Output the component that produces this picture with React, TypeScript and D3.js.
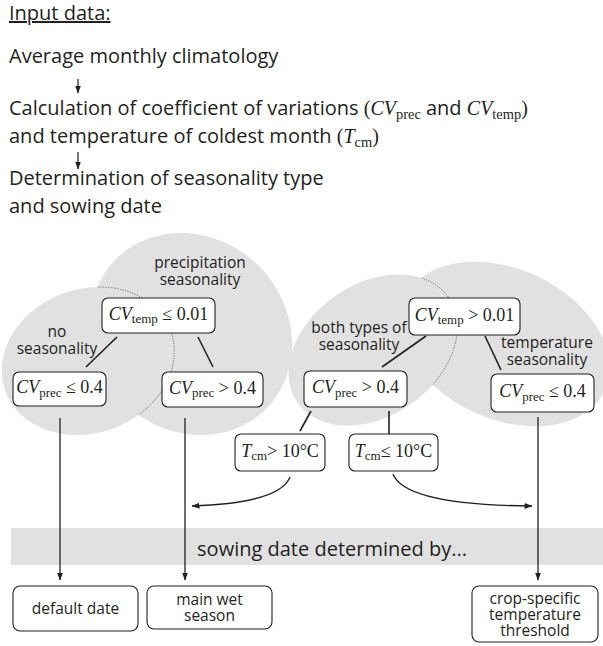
import * as d3 from "d3"

type Part = { t: string; italic?: boolean; sub?: boolean; sans?: boolean }

const FONT_SANS = "'Open Sans', 'Noto Sans', sans-serif"
const FONT_SERIF = "'Liberation Serif', 'DejaVu Serif', serif"
const INK = "#231f20"
const GRAY = "#e1e1e1"

// text of the intro steps
const INTRO_TITLE = "Input data:"
const INTRO_LINES: Part[][] = [
  [{ t: "Average monthly climatology", sans: true }],
  [
    { t: "Calculation of coefficient of variations ", sans: true },
    { t: "(" },
    { t: "CV", italic: true },
    { t: "prec", sub: true },
    { t: " and ", sans: true },
    { t: "CV", italic: true },
    { t: "temp", sub: true },
    { t: ")" },
  ],
  [
    { t: "and temperature of coldest month ", sans: true },
    { t: "(" },
    { t: "T", italic: true },
    { t: "cm", sub: true },
    { t: ")" },
  ],
  [{ t: "Determination of seasonality type", sans: true }],
  [{ t: "and sowing date", sans: true }],
]

// seasonality regions
const REGION_NAMES = ["precipitation", "none", "temperature", "both"]
const REGION_LABELS = [
  ["precipitation", "seasonality"],
  ["no", "seasonality"],
  ["temperature", "seasonality"],
  ["both types of", "seasonality"],
]

// decision boxes
const BOX_IDS = ["tempLow", "precLowA", "precHighA", "tempHigh", "precHighB", "precLowB", "tcmHigh", "tcmLow"]
const BOX_TEXT: Part[][] = [
  [{ t: "CV", italic: true }, { t: "temp", sub: true }, { t: " ≤ 0.01" }],
  [{ t: "CV", italic: true }, { t: "prec", sub: true }, { t: " ≤ 0.4" }],
  [{ t: "CV", italic: true }, { t: "prec", sub: true }, { t: " > 0.4" }],
  [{ t: "CV", italic: true }, { t: "temp", sub: true }, { t: " > 0.01" }],
  [{ t: "CV", italic: true }, { t: "prec", sub: true }, { t: " > 0.4" }],
  [{ t: "CV", italic: true }, { t: "prec", sub: true }, { t: " ≤ 0.4" }],
  [{ t: "T", italic: true }, { t: "cm", sub: true }, { t: "> 10°C" }],
  [{ t: "T", italic: true }, { t: "cm", sub: true }, { t: "≤ 10°C" }],
]

const BAND_TEXT = "sowing date determined by..."
const OUTCOME_TEXT = [["default date"], ["main wet", "season"], ["crop-specific", "temperature", "threshold"]]

// ---- layout (pixels) ----
const REGION_SHAPES: Record<string, { cx: number; cy: number; rx: number; ry: number; rot: number }> = {
  precipitation: { cx: 191, cy: 334, rx: 106, ry: 96, rot: 45 },
  none: { cx: 88, cy: 361, rx: 88, ry: 72, rot: -20 },
  temperature: { cx: 505, cy: 344, rx: 110, ry: 75, rot: 25 },
  both: { cx: 373, cy: 350, rx: 92, ry: 66, rot: -35 },
}
const REGION_LABEL_POS: Record<string, [number, number]> = {
  precipitation: [200, 268],
  none: [57, 337],
  temperature: [547, 348],
  both: [359, 333],
}
const BOX_POS: Record<string, [number, number, number, number]> = {
  tempLow: [102, 298, 113, 35],
  precLowA: [13, 372, 93, 34],
  precHighA: [162, 372, 101, 35],
  tempHigh: [409, 298, 111, 37],
  precHighB: [304, 371, 103, 36],
  precLowB: [491, 374, 103, 38],
  tcmHigh: [235, 434, 90, 37],
  tcmLow: [349, 434, 89, 37],
}
const OUTCOME_POS: [number, number, number, number][] = [
  [13, 586, 125, 45],
  [147, 586, 125, 43],
  [472, 586, 126, 56],
]
const CONNECTORS: [number, number, number, number][] = [
  [117, 337, 86, 367],
  [198, 337, 213, 367],
  [426, 336, 382, 367],
  [485, 336, 501, 370],
  [311, 411, 300, 431],
  [389, 411, 389, 434],
]
const DOWN_ARROWS: [number, number, number][] = [
  [60, 418, 580],
  [185, 418, 580],
  [538, 417, 580],
]

function ellipseTransform(name: string) {
  const s = REGION_SHAPES[name]
  return `translate(${s.cx},${s.cy}) rotate(${s.rot})`
}

function RichText({
  parts,
  x,
  y,
  size,
  anchor = "middle",
}: {
  parts: Part[]
  x: number
  y: number
  size: number
  anchor?: string
}) {
  return (
    <text x={x} y={y} textAnchor={anchor} fontFamily={FONT_SERIF} fontSize={size} fill={INK} style={{ whiteSpace: "pre" }}>
      {parts.map((p, i) => {
        const prev = parts[i - 1]
        let dy = 0
        if (p.sub && !prev?.sub) dy = size * 0.22
        if (!p.sub && prev?.sub) dy = -size * 0.22
        return (
          <tspan
            key={i}
            dy={dy || undefined}
            fontStyle={p.italic ? "italic" : undefined}
            fontSize={p.sub ? size * 0.72 : undefined}
            fontFamily={p.sans ? FONT_SANS : undefined}
          >
            {p.t}
          </tspan>
        )
      })}
    </text>
  )
}

export default function App() {
  const curveLeft = d3.path()
  curveLeft.moveTo(290, 477)
  curveLeft.quadraticCurveTo(280, 503, 192, 506)
  const curveRight = d3.path()
  curveRight.moveTo(393, 474)
  curveRight.quadraticCurveTo(405, 505, 532, 506)

  const introY = [63, 115, 143, 185, 213]

  return (
    <svg
      width={603}
      height={646}
      viewBox="0 0 603 646"
      style={{ position: "absolute", left: 0, top: 0, background: "white" }}
    >
      <defs>
        <marker id="head" viewBox="0 0 8 6" refX={7.5} refY={3} markerWidth={8} markerHeight={6} markerUnits="userSpaceOnUse" orient="auto">
          <path d="M0,0 L8,3 L0,6 Z" fill={INK} />
        </marker>
        <clipPath id="clipPrec">
          <ellipse transform={ellipseTransform("precipitation")} rx={REGION_SHAPES.precipitation.rx} ry={REGION_SHAPES.precipitation.ry} />
        </clipPath>
        <clipPath id="clipTemp">
          <ellipse transform={ellipseTransform("temperature")} rx={REGION_SHAPES.temperature.rx} ry={REGION_SHAPES.temperature.ry} />
        </clipPath>
      </defs>

      {/* intro */}
      <text x={9} y={20} fontFamily={FONT_SANS} fontSize={20} fill={INK} textDecoration="underline">
        {INTRO_TITLE}
      </text>
      {INTRO_LINES.map((parts, i) => (
        <RichText key={i} parts={parts} x={9} y={introY[i]} size={20} anchor="start" />
      ))}
      <line x1={78} y1={79} x2={78} y2={93} stroke={INK} strokeWidth={1.2} markerEnd="url(#head)" />
      <line x1={78} y1={152} x2={78} y2={169} stroke={INK} strokeWidth={1.2} markerEnd="url(#head)" />

      {/* regions */}
      {REGION_NAMES.map((name) => {
        const s = REGION_SHAPES[name]
        return <ellipse key={name} transform={ellipseTransform(name)} rx={s.rx} ry={s.ry} fill={GRAY} />
      })}
      <g clipPath="url(#clipPrec)">
        <ellipse transform={ellipseTransform("none")} rx={REGION_SHAPES.none.rx} ry={REGION_SHAPES.none.ry} fill="none" stroke="#555" strokeWidth={0.9} strokeDasharray="1 1.5" />
      </g>
      <g clipPath="url(#clipTemp)">
        <ellipse transform={ellipseTransform("both")} rx={REGION_SHAPES.both.rx} ry={REGION_SHAPES.both.ry} fill="none" stroke="#555" strokeWidth={0.9} strokeDasharray="1 1.5" />
      </g>
      {REGION_NAMES.map((name, i) => {
        const [x, y] = REGION_LABEL_POS[name]
        return (
          <text key={name} x={x} y={y} textAnchor="middle" fontFamily={FONT_SANS} fontSize={15.5} fill={INK}>
            {REGION_LABELS[i].map((l, j) => (
              <tspan key={j} x={x} dy={j === 0 ? 0 : 16.5}>
                {l}
              </tspan>
            ))}
          </text>
        )
      })}

      {/* band */}
      <rect x={11} y={528} width={592} height={37} fill={GRAY} />
      <text x={332} y={556} textAnchor="middle" fontFamily={FONT_SANS} fontSize={20} fill={INK}>
        {BAND_TEXT}
      </text>

      {/* connectors */}
      {CONNECTORS.map(([x1, y1, x2, y2], i) => (
        <line key={i} x1={x1} y1={y1} x2={x2} y2={y2} stroke={INK} strokeWidth={1.6} />
      ))}
      {DOWN_ARROWS.map(([x, y1, y2], i) => (
        <line key={i} x1={x} y1={y1} x2={x} y2={y2} stroke={INK} strokeWidth={1.3} markerEnd="url(#head)" />
      ))}
      <path d={curveLeft.toString()} fill="none" stroke={INK} strokeWidth={1.3} markerEnd="url(#head)" />
      <path d={curveRight.toString()} fill="none" stroke={INK} strokeWidth={1.3} markerEnd="url(#head)" />

      {/* decision boxes */}
      {BOX_IDS.map((id, i) => {
        const [x, y, w, h] = BOX_POS[id]
        return (
          <g key={id}>
            <rect x={x} y={y} width={w} height={h} rx={6} fill="white" stroke={INK} strokeWidth={1.1} />
            <RichText parts={BOX_TEXT[i]} x={x + w / 2} y={y + h / 2 + 4} size={18} />
          </g>
        )
      })}

      {/* outcomes */}
      {OUTCOME_TEXT.map((lines, i) => {
        const [x, y, w, h] = OUTCOME_POS[i]
        const lh = 16
        const y0 = y + h / 2 - ((lines.length - 1) * lh) / 2 + 5.5
        return (
          <g key={i}>
            <rect x={x} y={y} width={w} height={h} rx={7} fill="white" stroke={INK} strokeWidth={1.1} />
            <text textAnchor="middle" fontFamily={FONT_SANS} fontSize={15.5} fill={INK}>
              {lines.map((l, j) => (
                <tspan key={j} x={x + w / 2} y={y0 + j * lh}>
                  {l}
                </tspan>
              ))}
            </text>
          </g>
        )
      })}
    </svg>
  )
}
